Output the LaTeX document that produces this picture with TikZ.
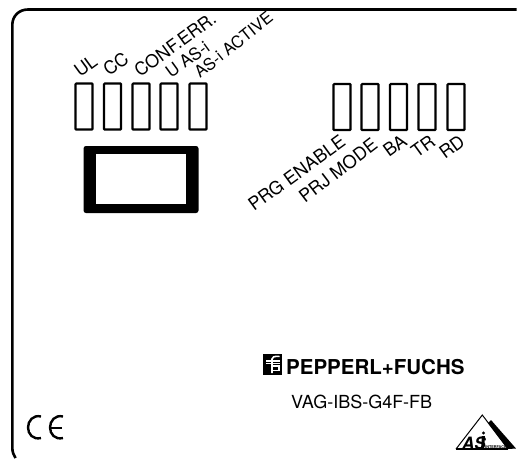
\documentclass[tikz,border=0pt]{standalone}
\usepackage{fontspec}
\setmainfont{TeX Gyre Heros}
\tikzset{
  led/.style={draw=black,line width=2.2pt,minimum width=17pt,minimum height=46pt,inner sep=0pt,rounded corners=0.8pt},
  lab/.style={anchor=base west,rotate=36,inner sep=0pt,font=\fontsize{18}{18}\selectfont},
}
\begin{document}
\begin{tikzpicture}[x=1pt,y=-1pt]
\useasboundingbox (0,0) rectangle (518,459);
\fill[white] (0,0) rectangle (518,459);
% housing outline
\draw[line width=2.6pt] (516.5,9.5) -- (28,9.5) .. controls (19,9.5) and (12.3,16) .. (12.3,25) -- (12.3,447) .. controls (12.3,452) and (13.5,455) .. (15.5,458);
% left LEDs
\foreach \n/\x in {a/84,b/112.5,c/141,d/169,e/198}{\node[led] (\n) at (\x,106.5) {};}
% right LEDs
\foreach \n/\x in {f/342,g/370,h/398.5,i/427,j/456}{\node[led] (\n) at (\x,107) {};}
% labels
\node[lab] (ul) at (80,78) {UL};
\node[lab] (cc) at (109,77) {CC};
\node[lab,font=\fontsize{17.8}{17.8}\selectfont] (cf) at (140,78) {CONF.ERR.};
\node[lab,font=\fontsize{17}{17}\selectfont] (ua) at (171,79) {U AS-i};
\node[lab,font=\fontsize{16.5}{16.5}\selectfont,rotate=2.5] (ac) at (200,79) {AS-i ACTIVE};
\node[lab] (pe) at (254,212) {PRG ENABLE};
\node[lab,rotate=1.5] (pm) at (305,204) {PRJ MODE};
\node[lab] (ba) at (389,158) {BA};
\node[lab] (tr) at (417,159) {TR};
\node[lab] (rd) at (445,160) {RD};
% display
\fill[black,rounded corners=2.5pt] (83.5,146) rectangle (198.5,213);
\fill[white] (96,154.3) rectangle (186,204);
% logo
\fill (263,354) rectangle (282,375);
\begin{scope}[white,line width=1.6pt]
\draw (272,373) -- (272,359) .. controls (272,356.8) and (274,356.3) .. (279.5,356.3);
\draw (266,360.8) -- (279.5,360.8);
\draw[line width=1.2pt] (266,363.6) -- (279.5,363.6);
\draw (272,366) -- (279,366) -- (279,370.5) -- (272,370.5);
\end{scope}
\node[anchor=base west,inner sep=0pt,font=\fontsize{20.5}{20.5}\selectfont\bfseries] (pf) at (286,374) {PEPPERL+FUCHS};
\node[anchor=base west,inner sep=0pt,font=\fontsize{18}{18}\selectfont] (vg) at (291,408) {VAG-IBS-G4F-FB};
% CE
\draw[line width=2.4pt] (41,416.5) .. controls (33,414.5) and (28,421) .. (28,427.5) .. controls (28,434) and (33,440) .. (41,438);
\draw[line width=2.4pt] (63,416.5) .. controls (55,414.5) and (50,421) .. (50,427.5) .. controls (50,434) and (55,440) .. (63,438);
\draw[line width=2pt] (51,427.5) -- (62,427.5);
% AS-i triangle
\draw[line width=1pt] (456,449) -- (482.3,415) -- (508,449);
\fill (456,448) rectangle (508,450);
\fill (491,420) -- (516,448.5) -- (508,449) -- (488,423) -- cycle;
\node[anchor=base west,inner sep=0pt,font=\fontsize{17}{17}\selectfont\bfseries\itshape] (as) at (462,449) {AS};
\fill (483.5,433) circle (1.6pt);
\fill (482,436) -- (485,436) -- (484,449) -- (481,449) -- cycle;
\node[anchor=base west,inner sep=0pt,font=\fontsize{3.8}{3.8}\selectfont\bfseries] (it) at (485,448.5) {INTERFACE};
\end{tikzpicture}
\end{document}
